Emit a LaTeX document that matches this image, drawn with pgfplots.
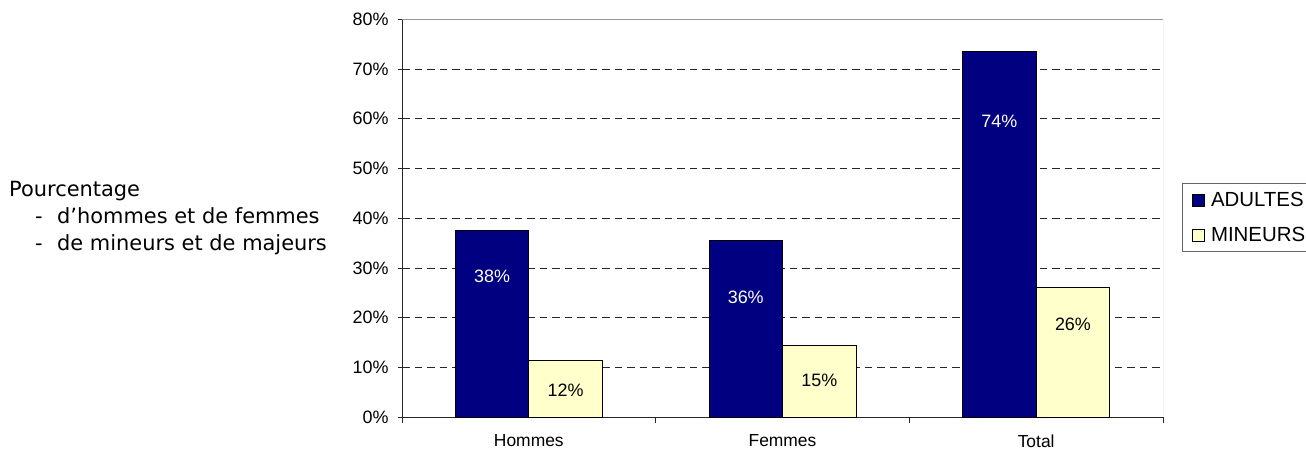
\documentclass[border=0pt]{standalone}
\usepackage{fontspec}
\setmainfont{Liberation Sans}
\newfontfamily\tah{DejaVu Sans}
\usepackage{pgfplots}
\pgfplotsset{compat=1.18}
\definecolor{navyb}{RGB}{0,0,128}
\definecolor{paley}{RGB}{255,255,204}
\pgfplotsset{sqlegend/.style={legend image code/.code={\draw[##1] (0bp,-6bp) rectangle (12.5bp,6bp);}}}
\begin{document}
\begin{tikzpicture}
\useasboundingbox (0bp,0bp) rectangle (1306bp,452bp);
\tikzset{lefttxt/.style={anchor=base west, inner sep=0pt, font=\tah\fontsize{21}{24}\selectfont}}
\node[lefttxt] at (9bp,255bp) {Pourcentage};
\node[lefttxt] at (35bp,228bp) {-};
\node[lefttxt] at (57bp,228bp) {d’hommes et de femmes};
\node[lefttxt] at (35bp,201bp) {-};
\node[lefttxt] at (57bp,201bp) {de mineurs et de majeurs};
\begin{axis}[
  at={(402bp,34.7bp)}, anchor=south west,
  scale only axis, width=761bp, height=398bp,
  xmin=-0.5, xmax=2.5, ymin=0, ymax=80,
  axis lines*=left,
  axis line style={black!85, line width=1bp},
  tick align=outside,
  tick style={black!85, line width=1bp},
  major tick length=4bp,
  minor tick length=6bp,
  xtick={0,1,2}, xticklabels={Hommes,Femmes,Total},
  major x tick style={draw=none},
  minor xtick={-0.5,0.5,1.5,2.5},
  ytick={0,10,...,80},
  yticklabels={0\%,10\%,20\%,30\%,40\%,50\%,60\%,70\%,80\%},
  extra y ticks={10,20,...,70},
  extra y tick labels={},
  extra y tick style={grid=major, major tick length=0pt},
  major grid style={black!85, dash pattern=on 7.5bp off 5bp, line width=0.8bp},
  xticklabel style={font=\fontsize{17.5}{20}\selectfont, yshift=-12.5bp, inner sep=1bp},
  yticklabel style={font=\fontsize{18}{20}\selectfont, xshift=-6bp},
  legend cell align=left,
  legend style={at={(axis description cs:1.025,0.5887)}, anchor=north west,
    draw=black!60, line width=1bp, font=\fontsize{20.5}{24}\selectfont,
    row sep=15bp, inner xsep=9bp, inner ysep=7bp,
    /tikz/every odd column/.append style={column sep=4bp}},
]
\addplot[ybar, fill=navyb, draw=black, line width=1bp, bar width=73.5bp, bar shift=-36.75bp, sqlegend]
  coordinates {(0,37.6) (1,35.6) (2,73.6)};
\addlegendentry{ADULTES}
\addplot[ybar, fill=paley, draw=black, line width=1bp, bar width=73.5bp, bar shift=36.75bp, sqlegend]
  coordinates {(0,11.4) (1,14.5) (2,26.1)};
\addlegendentry{MINEURS}
\addplot[forget plot, draw=none, mark=none, nodes near coords, point meta=explicit symbolic,
  nodes near coords align=center,
  every node near coord/.append style={font=\fontsize{18}{20}\selectfont, text=white}]
  coordinates {(-0.145,28.4) [38\%] (0.855,24.2) [36\%] (1.855,59.4) [74\%]};
\addplot[forget plot, draw=none, mark=none, nodes near coords, point meta=explicit symbolic,
  nodes near coords align=center,
  every node near coord/.append style={font=\fontsize{18}{20}\selectfont, text=black}]
  coordinates {(0.145,5.5) [12\%] (1.145,7.5) [15\%] (2.145,18.6) [26\%]};
\draw[black!40, line width=1bp] (rel axis cs:0,1) -- (rel axis cs:1,1) -- (rel axis cs:1,0);
\end{axis}
\end{tikzpicture}
\end{document}
